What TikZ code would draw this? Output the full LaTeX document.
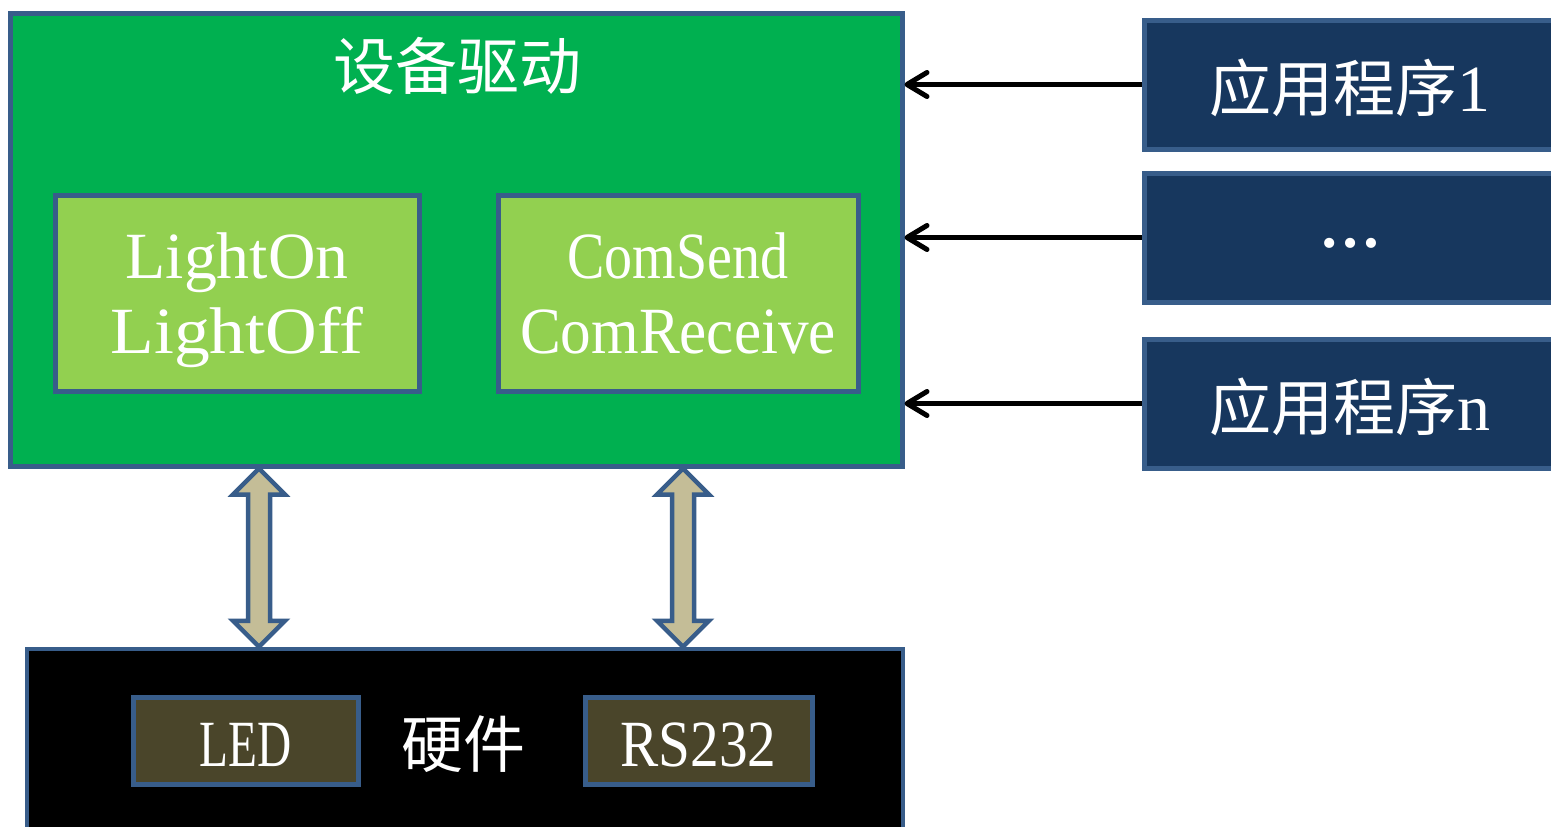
\documentclass[tikz,border=0pt]{standalone}
\usepackage{fontspec}
\usepackage{graphicx}
\setmainfont{Liberation Serif}
\newfontfamily\cjk{Noto Sans CJK SC}
\usetikzlibrary{arrows.meta,calc}

\definecolor{edge}{HTML}{385D8A}
\definecolor{drvgreen}{HTML}{00B050}
\definecolor{fngreen}{HTML}{92D050}
\definecolor{appnavy}{HTML}{17375E}
\definecolor{hwbox}{HTML}{4A452A}
\definecolor{busfill}{HTML}{C4BD97}

% set a Latin label to a given width (narrow half-width look)
\newlength\sqw
\newcommand\squeeze[2]{\settowidth\sqw{#2}\pgfmathsetmacro\sqf{#1/\sqw}\scalebox{\sqf}[1]{#2}}
% Chinese text
\newcommand\zh[1]{{\cjk\fontsize{62}{70}\selectfont #1}}
% lower a label without changing its box
\newcommand\dropby[2]{\raisebox{-#1}[\height][\depth]{#2}}

% block double arrow between two named points
\newcommand\busarrow[2]{%
  \filldraw[bus] (#1) -- ++(26,26) -- ++(-15,0) -- ($(#2)+(11,-26)$) -- ++(15,0)
    -- (#2) -- ++(-26,-26) -- ++(15,0) -- ($(#1)+(-11,26)$) -- ++(-15,0) -- cycle;}

\begin{document}
\begin{tikzpicture}[x=1pt,y=-1pt,
  blk/.style={draw=edge, line width=5pt, rectangle, inner sep=0pt},
  latin/.style={font=\fontsize{66}{75}\selectfont, text=white, align=center},
  conn/.style={line width=5pt, black, -{Straight Barb[length=20pt,width=24pt,round]}},
  bus/.style={draw=edge, fill=busfill, line width=4.5pt, line join=miter}]

\useasboundingbox (0,0) rectangle (1551,827);
\clip (0,0) rectangle (1551,827);
\fill[white] (0,0) rectangle (1551,827);

% device driver layer
\node[blk, fill=drvgreen, minimum width=892pt, minimum height=453pt] (drv) at (456,239.5) {};
\node[text=white] (title) at (457,66) {\zh{设备驱动}};
\node[blk, fill=fngreen, minimum width=364pt, minimum height=196pt, latin, text depth=-8pt] (fn1) at (237,293)
  {\squeeze{223}{LightOn}\\\squeeze{253}{LightOff}};
\node[blk, fill=fngreen, minimum width=360pt, minimum height=196pt, latin, text depth=-8pt] (fn2) at (678,293)
  {\squeeze{221}{ComSend}\\\squeeze{316}{ComReceive}};

% applications
\node[blk, fill=appnavy, minimum width=412pt, minimum height=129pt, latin] (app1) at (1350,84.5)
  {\dropby{3pt}{\zh{应用程序}1}};
\node[blk, fill=appnavy, minimum width=412pt, minimum height=129pt, latin] (app2) at (1350,237.5)
  {\dropby{6pt}{\fontsize{62}{70}\selectfont\bfseries …}};
\node[blk, fill=appnavy, minimum width=412pt, minimum height=129pt, latin] (app3) at (1350,403.5)
  {\dropby{3pt}{\zh{应用程序}n}};

\draw[conn] (app1.west) -- (app1.west -| drv.east);
\draw[conn] (app2.west) -- (app2.west -| drv.east);
\draw[conn] (app3.west) -- (app3.west -| drv.east);

% hardware layer
\node[draw=edge, line width=4.5pt, fill=black, minimum width=876pt, minimum height=200pt, inner sep=0pt] (hw) at (465,749) {};
\node[text=white] (hwt) at (463,744) {\zh{硬件}};
\node[blk, fill=hwbox, minimum width=225pt, minimum height=87pt, latin] (led) at (245.5,740.5)
  {\dropby{4pt}{\squeeze{92}{LED}}};
\node[blk, fill=hwbox, minimum width=227pt, minimum height=87pt, latin] (rs) at (698.5,740.5)
  {\dropby{4pt}{\squeeze{156}{RS232}}};

% buses between driver and hardware
\coordinate (b1x) at (259,0);
\coordinate (b2x) at (683,0);
\coordinate (b1t) at (drv.south -| b1x);
\coordinate (b1b) at (hw.north -| b1x);
\coordinate (b2t) at (drv.south -| b2x);
\coordinate (b2b) at (hw.north -| b2x);
\busarrow{b1t}{b1b}
\busarrow{b2t}{b2b}

\end{tikzpicture}
\end{document}
